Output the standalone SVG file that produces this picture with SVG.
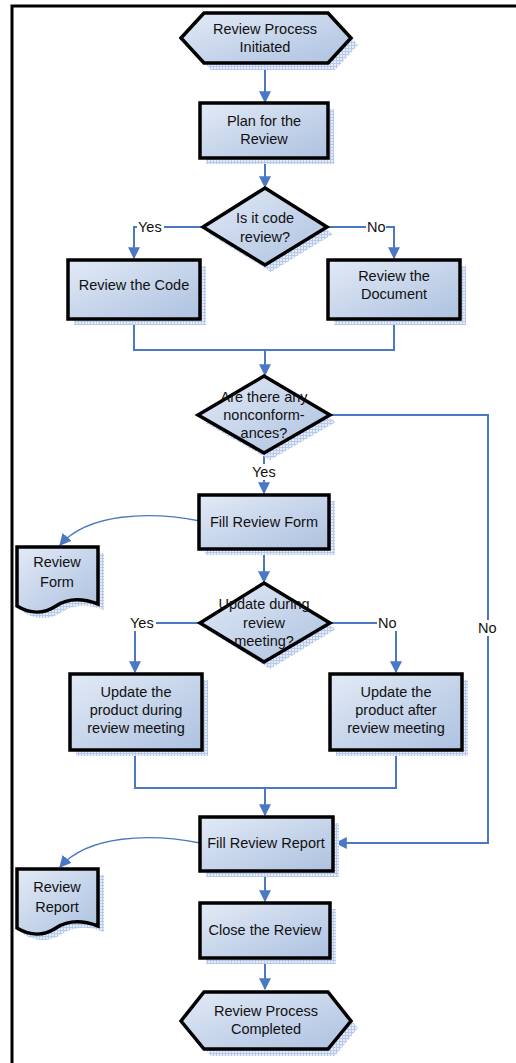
<svg xmlns="http://www.w3.org/2000/svg" width="516" height="1063" viewBox="0 0 516 1063">
  <defs>
    <linearGradient id="fillGrad" x1="0" y1="0" x2="1" y2="1">
      <stop offset="0" stop-color="#e2eaf6"/>
      <stop offset="1" stop-color="#adc1e0"/>
    </linearGradient>
    <pattern id="hatch" width="3" height="3" patternUnits="userSpaceOnUse">
      <rect width="3" height="3" fill="#e6edf8"/>
      <rect width="1" height="3" fill="#b7c9ea"/>
      <rect width="3" height="1" fill="#b7c9ea"/>
    </pattern>
    <marker id="arrow" viewBox="0 0 10 10" refX="9" refY="5" markerWidth="12" markerHeight="12" markerUnits="userSpaceOnUse" orient="auto">
      <path d="M0,0 L10,5 L0,10 z" fill="#4a78c4"/>
    </marker>
  </defs>
  <style>
    .shape { fill: url(#fillGrad); stroke: #000; stroke-width: 3.5; stroke-linejoin: miter; }
    .shadow { fill: url(#hatch); stroke: none; }
    .txt { font-family: "Liberation Sans", Arial, sans-serif; font-size: 14.5px; fill: #111; text-anchor: middle; }
    .lbl { font-family: "Liberation Sans", Arial, sans-serif; font-size: 14.5px; fill: #111; }
    .conn { fill: none; stroke: #4a78c4; stroke-width: 2; }
    .thin { fill: none; stroke: #4a78c4; stroke-width: 1.3; }
    .frame { fill: none; stroke: #000; stroke-width: 3; }
  </style>

  <!-- page frame -->
  <path class="frame" d="M12,1063 V6 H516"/>

  <!-- connectors -->
  <g id="connectors">
    <path class="conn" d="M265,64 V102" marker-end="url(#arrow)"/>
    <path class="conn" d="M265,158 V187" marker-end="url(#arrow)"/>
    <path class="conn" d="M203,227 H134 V258" marker-end="url(#arrow)"/>
    <path class="conn" d="M327,227 H394 V258" marker-end="url(#arrow)"/>
    <path class="conn" d="M134,319 V350 H394 V319"/>
    <path class="conn" d="M265,350 V375" marker-end="url(#arrow)"/>
    <path class="conn" d="M330,415 H488 V843 H336" marker-end="url(#arrow)"/>
    <path class="conn" d="M264,453 V493" marker-end="url(#arrow)"/>
    <path class="thin" d="M200,521 C150,511 88,513 60,545" marker-end="url(#arrow)"/>
    <path class="conn" d="M264,548 V582" marker-end="url(#arrow)"/>
    <path class="conn" d="M200,623 H135 V672" marker-end="url(#arrow)"/>
    <path class="conn" d="M330,623 H396 V672" marker-end="url(#arrow)"/>
    <path class="conn" d="M135,749 V788 H396 V749"/>
    <path class="conn" d="M265,788 V815" marker-end="url(#arrow)"/>
    <path class="thin" d="M200,843 C150,833 88,835 60,867" marker-end="url(#arrow)"/>
    <path class="conn" d="M265,870 V901" marker-end="url(#arrow)"/>
    <path class="conn" d="M265,958 V989" marker-end="url(#arrow)"/>

    <!-- branch labels -->
    <rect x="137" y="219" width="27" height="16" fill="#fff"/>
    <text class="lbl" x="138" y="232">Yes</text>
    <rect x="366" y="219" width="20" height="16" fill="#fff"/>
    <text class="lbl" x="367" y="232">No</text>
    <rect x="251" y="464" width="27" height="16" fill="#fff"/>
    <text class="lbl" x="252" y="477">Yes</text>
    <rect x="129" y="615" width="27" height="16" fill="#fff"/>
    <text class="lbl" x="130" y="628">Yes</text>
    <rect x="377" y="615" width="20" height="16" fill="#fff"/>
    <text class="lbl" x="378" y="628">No</text>
    <rect x="477" y="620" width="22" height="16" fill="#fff"/>
    <text class="lbl" x="478" y="633">No</text>
  </g>

  <!-- start terminator -->
  <g id="start">
    <path class="shadow" d="M188,45 L211,20 L335,20 L358,45 L335,70 L211,70 z"/>
    <path class="shape" d="M181,38 L204,13 L328,13 L351,38 L328,63 L204,63 z"/>
    <text class="txt" x="265" y="34">Review Process</text>
    <text class="txt" x="265" y="52">Initiated</text>
  </g>

  <!-- plan -->
  <g id="plan">
    <rect class="shadow" x="206" y="109" width="128" height="55"/>
    <rect class="shape" x="200" y="103" width="128" height="55"/>
    <text class="txt" x="264" y="126">Plan for the</text>
    <text class="txt" x="264" y="144">Review</text>
  </g>

  <!-- decision: code review -->
  <g id="isCode">
    <path class="shadow" d="M271,195 L333,234 L271,272 L209,234 z"/>
    <path class="shape" d="M265,188 L327,227 L265,265 L203,227 z"/>
    <text class="txt" x="265" y="223">Is it code</text>
    <text class="txt" x="265" y="242">review?</text>
  </g>

  <!-- review the code -->
  <g id="reviewCode">
    <rect class="shadow" x="74" y="266" width="132" height="59"/>
    <rect class="shape" x="68" y="260" width="132" height="59"/>
    <text class="txt" x="134" y="290">Review the Code</text>
  </g>

  <!-- review the document -->
  <g id="reviewDoc">
    <rect class="shadow" x="334" y="266" width="132" height="59"/>
    <rect class="shape" x="328" y="260" width="132" height="59"/>
    <text class="txt" x="394" y="281">Review the</text>
    <text class="txt" x="394" y="299">Document</text>
  </g>

  <!-- decision: nonconformances -->
  <g id="anyNC">
    <path class="shadow" d="M270,383 L336,422 L270,460 L204,422 z"/>
    <path class="shape" d="M264,376 L330,415 L264,453 L198,415 z"/>
    <text class="txt" x="264" y="402">Are there any</text>
    <text class="txt" x="264" y="420">nonconform-</text>
    <text class="txt" x="264" y="438">ances?</text>
  </g>

  <!-- fill review form -->
  <g id="fillForm">
    <rect class="shadow" x="205" y="501" width="130" height="54"/>
    <rect class="shape" x="199" y="495" width="130" height="54"/>
    <text class="txt" x="264" y="527">Fill Review Form</text>
  </g>

  <!-- review form document -->
  <g id="formDoc">
    <path class="shadow" d="M23,553 H104 V610 C88,604 74,604 62,612 C50,620 36,620 23,612 z"/>
    <path class="shape" d="M17,547 H98 V604 C82,598 68,598 56,606 C44,614 30,614 17,606 z"/>
    <text class="txt" x="57" y="567">Review</text>
    <text class="txt" x="57" y="587">Form</text>
  </g>

  <!-- decision: update during meeting -->
  <g id="updateDuring">
    <path class="shadow" d="M270,590 L336,629 L270,669 L206,629 z"/>
    <path class="shape" d="M264,583 L330,623 L264,662 L200,623 z"/>
    <text class="txt" x="264" y="609">Update during</text>
    <text class="txt" x="264" y="628">review</text>
    <text class="txt" x="264" y="646">meeting?</text>
  </g>

  <!-- update during meeting -->
  <g id="updateIn">
    <rect class="shadow" x="76" y="680" width="132" height="76"/>
    <rect class="shape" x="70" y="674" width="132" height="76"/>
    <text class="txt" x="136" y="697">Update the</text>
    <text class="txt" x="136" y="715">product during</text>
    <text class="txt" x="136" y="733">review meeting</text>
  </g>

  <!-- update after meeting -->
  <g id="updateAfter">
    <rect class="shadow" x="336" y="680" width="132" height="76"/>
    <rect class="shape" x="330" y="674" width="132" height="76"/>
    <text class="txt" x="396" y="697">Update the</text>
    <text class="txt" x="396" y="715">product after</text>
    <text class="txt" x="396" y="733">review meeting</text>
  </g>

  <!-- fill review report -->
  <g id="fillReport">
    <rect class="shadow" x="206" y="823" width="133" height="54"/>
    <rect class="shape" x="200" y="817" width="133" height="54"/>
    <text class="txt" x="266" y="848">Fill Review Report</text>
  </g>

  <!-- review report document -->
  <g id="reportDoc">
    <path class="shadow" d="M23,875 H104 V932 C88,926 74,926 62,934 C50,942 36,942 23,934 z"/>
    <path class="shape" d="M17,869 H98 V926 C82,920 68,920 56,928 C44,936 30,936 17,928 z"/>
    <text class="txt" x="57" y="892">Review</text>
    <text class="txt" x="57" y="912">Report</text>
  </g>

  <!-- close review -->
  <g id="close">
    <rect class="shadow" x="206" y="909" width="130" height="55"/>
    <rect class="shape" x="200" y="903" width="130" height="55"/>
    <text class="txt" x="265" y="935">Close the Review</text>
  </g>

  <!-- end terminator -->
  <g id="end">
    <path class="shadow" d="M188,1028 L211,999 L335,999 L358,1028 L335,1056 L211,1056 z"/>
    <path class="shape" d="M181,1021 L204,992 L328,992 L351,1021 L328,1049 L204,1049 z"/>
    <text class="txt" x="266" y="1016">Review Process</text>
    <text class="txt" x="266" y="1034">Completed</text>
  </g>
</svg>
